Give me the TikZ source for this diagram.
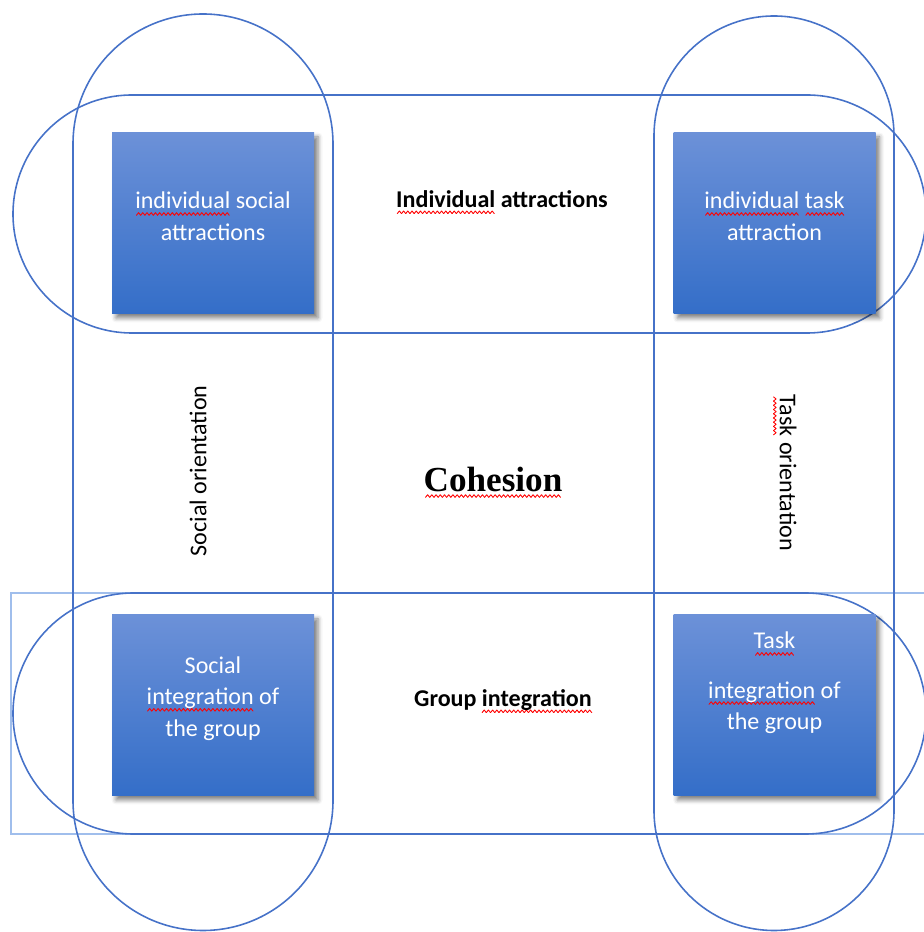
\documentclass[tikz,border=0pt]{standalone}
\usepackage{fontspec}
\setmainfont{Carlito}
\newfontfamily\headfont{Liberation Serif}
\usetikzlibrary{shadows.blur}

\definecolor{pillblue}{RGB}{70,114,200}
\definecolor{tiletop}{RGB}{108,145,216}
\definecolor{tilebottom}{RGB}{52,110,200}
\definecolor{frameblue}{RGB}{160,190,236}

% red wavy mark under a word
\newsavebox\wavebitbox
\newsavebox\spellbox
\newcommand\spellwave[1]{\leavevmode\sbox\spellbox{#1}%
  \rlap{\lower3.6pt\hbox to\wd\spellbox{\cleaders\copy\wavebitbox\hfil}}\usebox\spellbox}

\tikzset{
  pill/.style={draw=pillblue, line width=.9pt},
  tile/.style={inner sep=0pt, minimum width=4.04cm, minimum height=3.62cm,
    top color=tiletop, bottom color=tilebottom,
    blur shadow={shadow xshift=.08cm, shadow yshift=-.08cm, shadow blur radius=.09cm, shadow opacity=50}},
  tiletext/.style={text=white, align=center},
  axislabel/.style={text=black}
}

\begin{document}
\begin{tikzpicture}[font=\fontsize{13.7}{18}\selectfont]
    \setbox\wavebitbox\hbox{\tikz{\useasboundingbox (0,0) rectangle (2.4pt,1.5pt);
      \draw[red, line width=.5pt, line cap=round, line join=round] (0,0) -- (1.2pt,1.5pt) -- (2.4pt,0);}}
    \useasboundingbox (0,0) rectangle (18.48,18.64);
    % frame and pills
    \draw[draw=frameblue, line width=.7pt] (0.22,1.96) rectangle (18.7,6.78);
    \draw[pill, rounded corners=2.6cm] (1.46,0.03) rectangle (6.66,18.36);
    \draw[pill, rounded corners=2.4cm] (13.08,0.03) rectangle (17.88,18.32);
    \draw[pill, rounded corners=2.38cm] (0.26,11.98) rectangle (18.52,16.74);
    \draw[pill, rounded corners=2.41cm] (0.26,1.96) rectangle (18.52,6.78);
    % the four tiles
    \foreach \n/\x/\y in {tl/4.26/14.17, tr/15.49/14.17, bl/4.26/4.53, br/15.49/4.53}
      \node[tile] (\n) at (\x,\y) {};
    \node[tiletext] (tltext) at ([yshift=.14cm]tl.center) {\spellwave{individual} social\\attractions};
    \node[tiletext] (trtext) at ([yshift=.14cm]tr.center) {\spellwave{individual} \spellwave{task}\\attraction};
    \node[tiletext] (bltext) at ([yshift=.14cm]bl.center) {Social\\\spellwave{integration} of\\the group};
    \node[tiletext] (brtext) at ([yshift=.45cm]br.center) {\spellwave{Task}\\[.35cm]\spellwave{integration} of\\the group};
    % labels
    \node[axislabel] (indattr) at (10.04,14.6) {\bfseries\spellwave{Individual} attractions};
    \node[axislabel] (grpint) at (10.06,4.62) {\bfseries Group \spellwave{integration}};
    \node[axislabel, rotate=90] (socor) at (3.96,9.22) {Social orientation};
    \node[axislabel, rotate=-90] (taskor) at (15.7,9.18) {\spellwave{Task} orientation};
    \node (cohesion) at (9.86,9.0) {\headfont\fontsize{20}{24}\selectfont\bfseries\spellwave{Cohesion}};
\end{tikzpicture}
\end{document}
